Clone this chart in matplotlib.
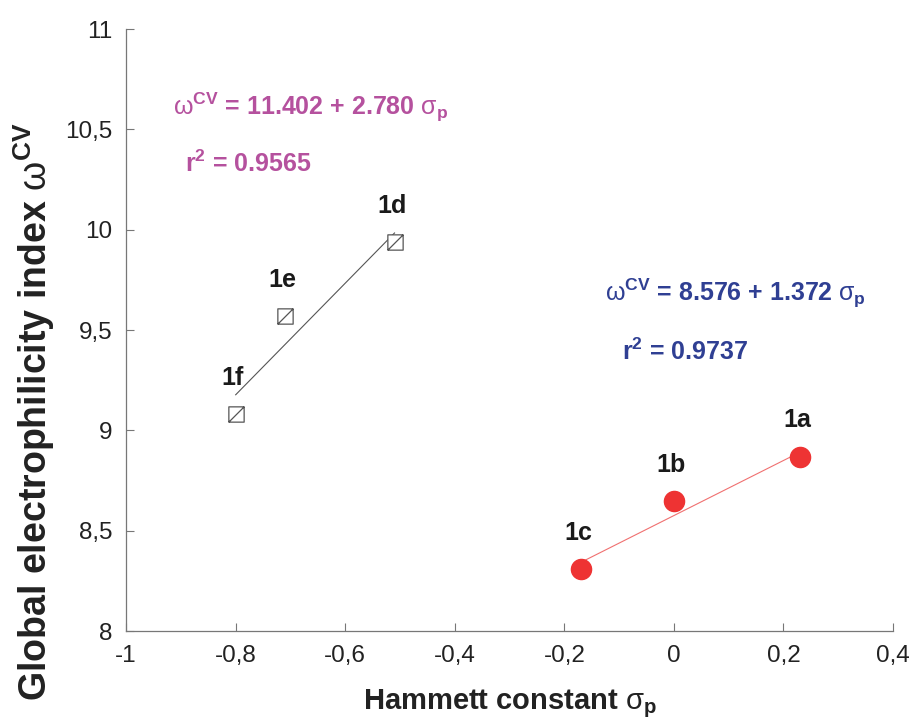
import numpy as np
import matplotlib
matplotlib.use('Agg')
from matplotlib import pyplot as plt
from matplotlib.path import Path

plt.rcParams['font.family'] = ['Liberation Sans', 'DejaVu Sans']
plt.rcParams['mathtext.fontset'] = 'custom'
plt.rcParams['mathtext.rm'] = 'Liberation Sans'
plt.rcParams['mathtext.bf'] = 'Liberation Sans:bold'
plt.rcParams['mathtext.it'] = 'Liberation Sans:italic'

# series 1a-1c (red circles)
labels_red = ['1a', '1b', '1c']
sigma_red = [0.23, 0.00, -0.17]
omega_red = [8.87, 8.65, 8.31]
fit_red = (8.576, 1.372, 0.9737)

# series 1d-1f (open squares)
labels_sq = ['1d', '1e', '1f']
sigma_sq = [-0.51, -0.71, -0.80]
omega_sq = [9.94, 9.57, 9.08]
fit_sq = (11.402, 2.780, 0.9565)

xticks = [-1, -0.8, -0.6, -0.4, -0.2, 0, 0.2, 0.4]
yticks = [8, 8.5, 9, 9.5, 10, 10.5, 11]

RED = '#ee3333'
MAGENTA = '#b5519e'
BLUE = '#2f3f93'

# square with a diagonal, like the original marker
sq_marker = Path([(-1, -1), (1, -1), (1, 1), (-1, 1), (-1, -1), (-1, -1), (1, 1)],
                 [Path.MOVETO, Path.LINETO, Path.LINETO, Path.LINETO, Path.CLOSEPOLY,
                  Path.MOVETO, Path.LINETO])

EQ = r'$\mathrm{\omega}^{\mathbf{CV}}$ = %.3f + %.3f $\mathrm{\sigma}_{\mathbf{p}}$'
R2 = r'r$^{\mathbf{2}}$ = %.4f'


def comma(v):
    s = ('%g' % v).replace('.', ',')
    return s


fig = plt.figure(figsize=(9.14, 7.28), dpi=100)
ax = fig.add_axes([0.138, 0.133, 0.839, 0.827])

# fit lines
for xs, (a, b, _), c in [(sigma_red, fit_red, '#f07070'), (sigma_sq, fit_sq, '#555555')]:
    xl = np.array([min(xs), max(xs)])
    ax.plot(xl, a + b * xl, color=c, lw=0.8, zorder=2)

ax.plot(sigma_red, omega_red, 'o', ms=14.5, color=RED, mec=RED, zorder=3)
ax.plot(sigma_sq, omega_sq, ls='none', marker=sq_marker, ms=11, mfc='white',
        mec='#555555', mew=0.9, zorder=3)

for lab, x, y in zip(labels_red + labels_sq, sigma_red + sigma_sq, omega_red + omega_sq):
    ax.annotate(lab, (x, y), xytext=(-2, 21), textcoords='offset points',
                ha='center', va='baseline', fontsize=18, fontweight='bold', color='#1a1a1a')

# equations
ax.text(-0.915, 10.575, EQ % fit_sq[:2], fontsize=18, fontweight='bold',
        color=MAGENTA, ha='left', va='baseline')
ax.text(-0.892, 10.29, R2 % fit_sq[2], fontsize=18, fontweight='bold',
        color=MAGENTA, ha='left', va='baseline')
ax.text(-0.125, 9.645, EQ % fit_red[:2], fontsize=18, fontweight='bold',
        color=BLUE, ha='left', va='baseline')
ax.text(-0.095, 9.35, R2 % fit_red[2], fontsize=18, fontweight='bold',
        color=BLUE, ha='left', va='baseline')

ax.set_xlim(-1, 0.4)
ax.set_ylim(8, 11)
ax.set_xticks(xticks)
ax.set_xticklabels([comma(v) for v in xticks])
ax.set_yticks(yticks)
ax.set_yticklabels([comma(v) for v in yticks])
ax.tick_params(direction='in', length=6, width=0.8, color='#777777',
               labelsize=17.5, pad=10, labelcolor='#222222')
for s in ['top', 'right']:
    ax.spines[s].set_visible(False)
for s in ['left', 'bottom']:
    ax.spines[s].set_color('#777777')
    ax.spines[s].set_linewidth(0.9)

ax.set_xlabel(r'Hammett constant $\mathrm{\sigma}_{\mathbf{p}}$', fontsize=21,
              fontweight='bold', color='#222222')
ax.xaxis.set_label_coords(0.5, -0.093)
ax.set_ylabel(r'Global electrophilicity index $\mathrm{\omega}^{\mathbf{CV}}$', fontsize=27,
              fontweight='bold', color='#222222')
ax.yaxis.set_label_coords(-0.09, 0.365)

plt.savefig('out.png', dpi=100)
